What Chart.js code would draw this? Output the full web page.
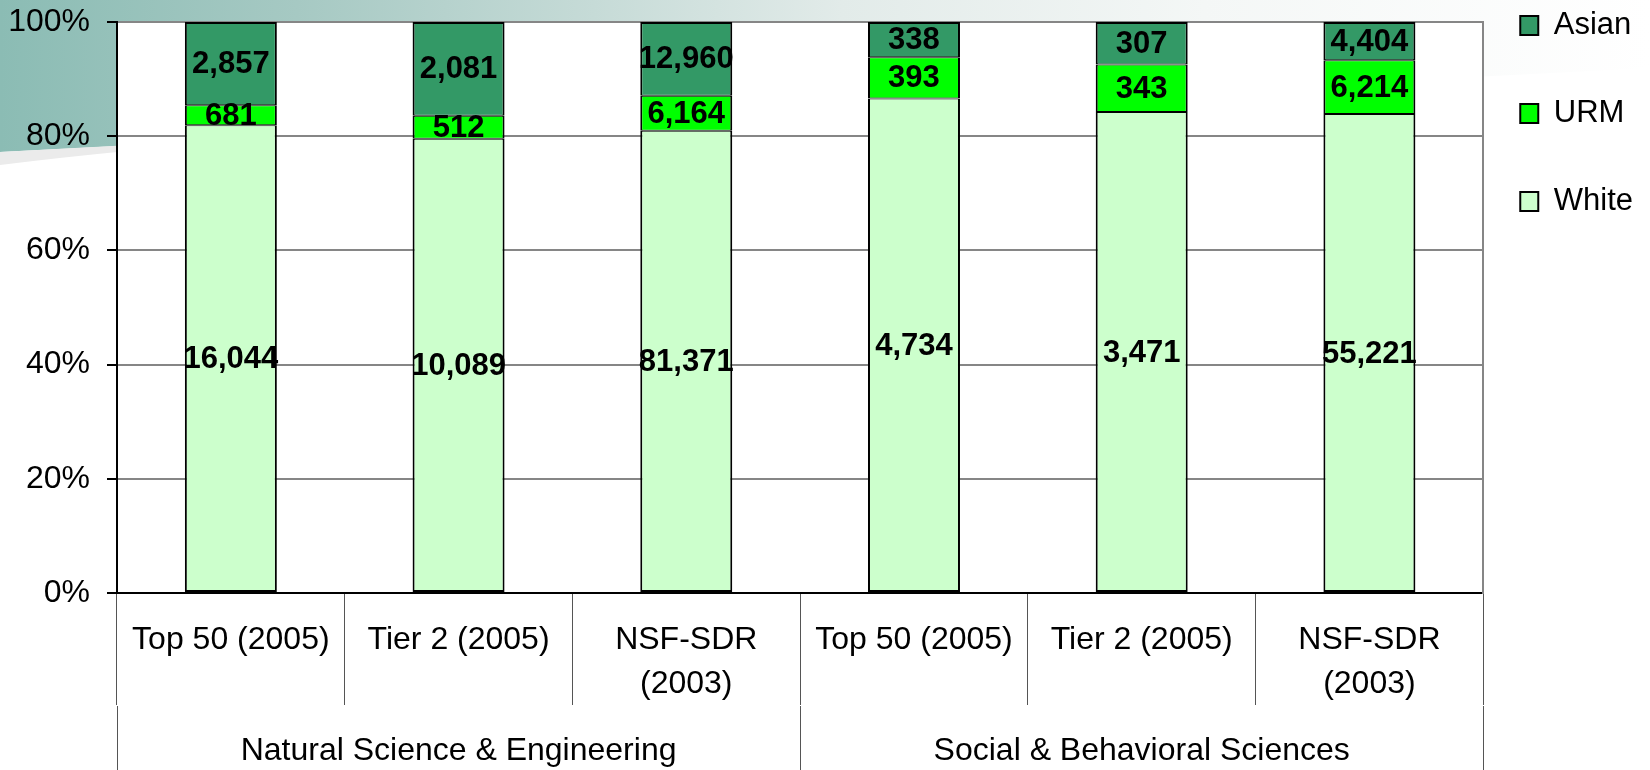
<!DOCTYPE html>
<html>
<head>
<meta charset="utf-8">
<script src="https://cdn.jsdelivr.net/npm/chart.js@4.4.1/dist/chart.umd.min.js"></script>
<style>
  html, body { margin: 0; padding: 0; background: #fff; }
</style>
</head>
<body>
<canvas id="myChart" width="1650" height="770"></canvas>
<script>
const categories = ['Top 50 (2005)', 'Tier 2 (2005)', ['NSF-SDR', '(2003)'], 'Top 50 (2005)', 'Tier 2 (2005)', ['NSF-SDR', '(2003)']];
const groups = ['Natural Science & Engineering', 'Social & Behavioral Sciences'];
const white = [16044, 10089, 81371, 4734, 3471, 55221];
const urm = [681, 512, 6164, 393, 343, 6214];
const asian = [2857, 2081, 12960, 338, 307, 4404];
const yTicks = [0, 20, 40, 60, 80, 100];

const FONT = '"Liberation Sans", Arial, sans-serif';

// 100% stacked: each bar is shown as share of its own total
const totals = white.map((v, i) => v + urm[i] + asian[i]);
const share = arr => arr.map((v, i) => v / totals[i] * 100);

// slide background: teal header fading to white, grey swoosh, white plot area
const backdrop = {
    id: 'backdrop',
    beforeDraw(chart) {
        const { ctx, width, height, chartArea: a } = chart;
        ctx.save();
        ctx.fillStyle = '#fff';
        ctx.fillRect(0, 0, width, height);
        const g = ctx.createLinearGradient(0, 0, width, 0);
        g.addColorStop(0, '#8bbcb4');
        g.addColorStop(0.18, '#a6c9c3');
        g.addColorStop(0.36, '#c6dbd7');
        g.addColorStop(0.51, '#e2ebe9');
        g.addColorStop(0.73, '#f4f7f6');
        g.addColorStop(1, '#ffffff');
        ctx.fillStyle = g;
        ctx.beginPath();
        ctx.moveTo(0, 0);
        ctx.lineTo(width, 0);
        ctx.lineTo(width, 68);
        ctx.lineTo(0, 152);
        ctx.closePath();
        ctx.fill();
        ctx.fillStyle = '#ebebeb';
        ctx.beginPath();
        ctx.moveTo(0, 152);
        ctx.lineTo(300, 136);
        ctx.quadraticCurveTo(120, 150, 0, 165);
        ctx.closePath();
        ctx.fill();
        ctx.fillStyle = '#fff';
        ctx.fillRect(a.left, a.top, a.right - a.left, a.bottom - a.top);
        ctx.restore();
    }
};

// counts written in the middle of each segment
const segmentLabels = {
    id: 'segmentLabels',
    afterDatasetsDraw(chart) {
        const ctx = chart.ctx;
        ctx.save();
        ctx.font = 'bold 31px ' + FONT;
        ctx.fillStyle = '#000';
        ctx.textAlign = 'center';
        ctx.textBaseline = 'middle';
        chart.data.datasets.forEach((ds, i) => {
            chart.getDatasetMeta(i).data.forEach((bar, j) => {
                const p = bar.getProps(['x', 'y', 'base'], true);
                ctx.fillText(ds.counts[j].toLocaleString('en-US'), p.x, (p.y + p.base) / 2 + 1);
            });
        });
        ctx.restore();
    }
};

const barStyle = {
    borderColor: '#000',
    borderSkipped: false,
    barPercentage: 0.404,
    categoryPercentage: 1
};

const ctx = document.getElementById('myChart').getContext('2d');
const myChart = new Chart(ctx, {
    type: 'bar',
    data: {
        labels: categories,
        datasets: [
            Object.assign({ label: 'White', data: share(white), counts: white, backgroundColor: '#ccffcc',
                borderWidth: { top: 1, bottom: 2, left: 2, right: 2 } }, barStyle),
            Object.assign({ label: 'URM', data: share(urm), counts: urm, backgroundColor: '#00ff00',
                borderWidth: { top: 1, bottom: 1, left: 2, right: 2 } }, barStyle),
            Object.assign({ label: 'Asian', data: share(asian), counts: asian, backgroundColor: '#339966',
                borderWidth: { top: 2, bottom: 1, left: 2, right: 2 } }, barStyle)
        ]
    },
    options: {
        responsive: false,
        animation: false,
        layout: { padding: { left: 0, top: 0, right: 7, bottom: 0 } },
        plugins: {
            tooltip: { enabled: false },
            legend: {
                position: 'right',
                align: 'start',
                reverse: true,
                labels: {
                    color: '#000',
                    font: { family: FONT, size: 31, lineHeight: 78 / 31 },
                    boxWidth: 18,
                    boxHeight: 19,
                    padding: 10,
                    // one-line arrays so the row height follows the font lineHeight
                    generateLabels: chart => Chart.defaults.plugins.legend.labels.generateLabels(chart)
                        .map(item => Object.assign(item, { text: [item.text], lineWidth: 2 }))
                }
            }
        },
        scales: {
            x: {
                stacked: true,
                offset: true,
                weight: 0,
                grid: { offset: true, drawOnChartArea: false, tickLength: 112, color: '#555', lineWidth: 1 },
                border: { color: '#000', width: 2 },
                ticks: {
                    color: '#000',
                    font: { family: FONT, size: 32, lineHeight: 44 / 32 },
                    padding: -87,
                    maxRotation: 0,
                    autoSkip: false
                },
                afterFit: s => { s.height = 113; }
            },
            x2: {
                type: 'category',
                labels: groups,
                position: 'bottom',
                offset: true,
                weight: 1,
                grid: { offset: true, drawOnChartArea: false, tickLength: 64, color: '#555', lineWidth: 1 },
                border: { display: false },
                ticks: {
                    color: '#000',
                    font: { family: FONT, size: 32, lineHeight: 44 / 32 },
                    padding: -41,
                    maxRotation: 0
                },
                afterFit: s => { s.height = 64; }
            },
            y: {
                stacked: true,
                min: 0,
                max: 100,
                afterBuildTicks: s => { s.ticks = yTicks.map(v => ({ value: v })); },
                ticks: {
                    color: '#000',
                    font: { family: FONT, size: 32 },
                    padding: 17,
                    callback: v => v + '%'
                },
                grid: {
                    color: c => (c.tick && c.tick.value === 0) ? '#000' : '#868686',
                    lineWidth: 2,
                    tickColor: '#000',
                    tickLength: 10
                },
                border: { color: '#000', width: 2 },
                afterFit: s => { s.width = 117; s.paddingTop = 22; }
            },
            y2: {
                position: 'right',
                min: 0,
                max: 100,
                ticks: { display: false },
                grid: { drawOnChartArea: false, drawTicks: false },
                border: { color: '#868686', width: 2 },
                afterFit: s => { s.width = 27; }
            }
        }
    },
    plugins: [backdrop, segmentLabels]
});
</script>
</body>
</html>
